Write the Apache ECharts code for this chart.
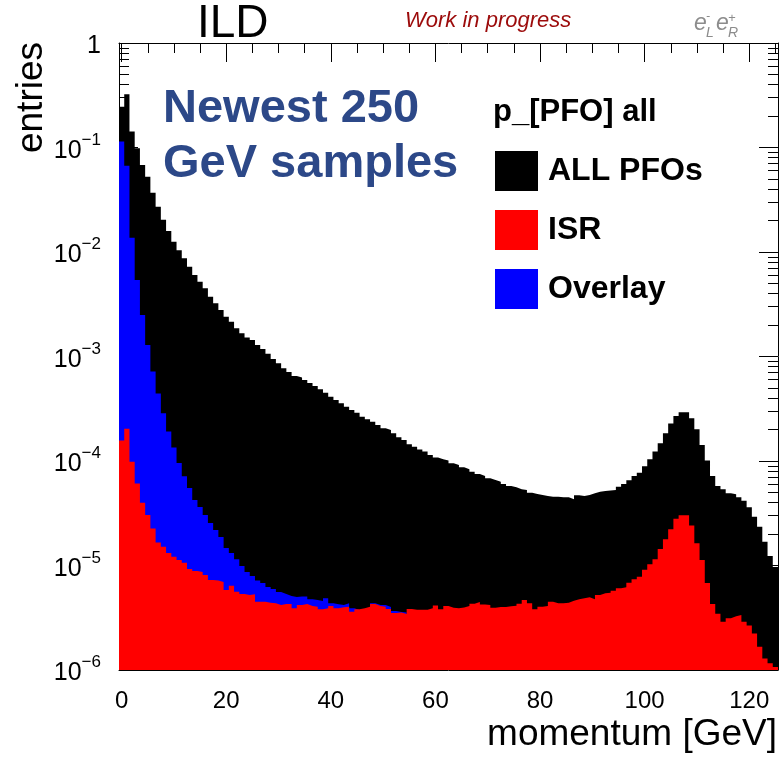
<!DOCTYPE html>
<html>
<head>
<meta charset="utf-8">
<title>p_[PFO] all</title>
<script src="https://cdn.jsdelivr.net/npm/echarts@6.0.0/dist/echarts.min.js"></script>
<style>
  html, body { margin: 0; padding: 0; background: #ffffff; }
  #chart { width: 784px; height: 760px; }
</style>
</head>
<body>
<div id="chart"></div>
<script>
const FONT = '"Liberation Sans", Arial, Helvetica, sans-serif';

// Momentum histograms: 1 GeV bins centred on integer GeV, starting at 0 GeV
const BIN_WIDTH = 1;
const FIRST_BIN_CENTER = 0;

// ALL PFOs, normalised entries per bin (bins 0..125 GeV)
const allPfos = [
  0.246, 0.323, 0.142, 0.0982, 0.0680, 0.0525, 0.0369, 0.0271, 0.0204, 0.0159,
  0.01255, 0.01038, 0.00870, 0.00723, 0.00603, 0.00520, 0.00449, 0.00373, 0.00323, 0.00279,
  0.00240, 0.00215, 0.00186, 0.00167, 0.00152, 0.00144, 0.00129, 0.00118, 0.00106, 0.000946,
  0.000861, 0.000771, 0.000711, 0.000651, 0.000630, 0.000596, 0.000558, 0.000522, 0.000485, 0.000450,
  0.000412, 0.000384, 0.000357, 0.000331, 0.000308, 0.000290, 0.000265, 0.000251, 0.000238, 0.000221,
  0.000206, 0.000198, 0.000184, 0.000169, 0.000159, 0.000145, 0.000137, 0.000129, 0.000123, 0.000114,
  0.000108, 0.000104, 0.000101, 9.51e-5, 9.16e-5, 8.70e-5, 8.33e-5, 7.90e-5, 7.51e-5, 7.19e-5,
  6.83e-5, 6.58e-5, 6.34e-5, 6.03e-5, 5.76e-5, 5.60e-5, 5.36e-5, 5.28e-5, 4.97e-5, 4.83e-5,
  4.73e-5, 4.62e-5, 4.55e-5, 4.55e-5, 4.49e-5, 4.49e-5, 4.30e-5, 4.70e-5, 4.62e-5, 4.73e-5,
  4.91e-5, 5.08e-5, 5.16e-5, 5.22e-5, 5.28e-5, 5.68e-5, 6.03e-5, 6.54e-5, 7.19e-5, 7.73e-5,
  8.90e-5, 1.04e-4, 1.23e-4, 1.48e-4, 1.84e-4, 2.29e-4, 2.70e-4, 2.92e-4, 2.92e-4, 2.56e-4,
  2.01e-4, 1.42e-4, 1.01e-4, 7.19e-5, 5.76e-5, 5.36e-5, 4.91e-5, 4.80e-5, 4.49e-5, 4.17e-5,
  3.60e-5, 2.93e-5, 2.35e-5, 1.69e-5, 1.23e-5, 9.7e-6
];

// ISR photons (bins 0..125 GeV)
const isr = [
  1.57e-4, 2.04e-4, 9.85e-5, 6.10e-5, 3.98e-5, 3.04e-5, 2.26e-5, 1.66e-5, 1.51e-5, 1.32e-5,
  1.21e-5, 1.13e-5, 1.06e-5, 9.26e-6, 8.86e-6, 8.67e-6, 8.11e-6, 7.27e-6, 7.19e-6, 6.95e-6,
  5.83e-6, 6.39e-6, 5.61e-6, 5.34e-6, 5.22e-6, 5.30e-6, 4.50e-6, 4.50e-6, 4.41e-6, 4.35e-6,
  4.19e-6, 4.28e-6, 4.28e-6, 3.89e-6, 4.19e-6, 4.28e-6, 4.10e-6, 4.03e-6, 3.81e-6, 3.89e-6,
  4.10e-6, 3.89e-6, 3.98e-6, 4.03e-6, 3.61e-6, 3.81e-6, 3.89e-6, 4.03e-6, 4.28e-6, 4.10e-6,
  4.03e-6, 3.83e-6, 3.51e-6, 3.55e-6, 3.43e-6, 3.83e-6, 3.78e-6, 3.78e-6, 3.78e-6, 3.89e-6,
  4.14e-6, 3.81e-6, 4.10e-6, 3.94e-6, 3.89e-6, 3.96e-6, 4.10e-6, 4.31e-6, 4.47e-6, 4.23e-6,
  4.19e-6, 3.94e-6, 4.01e-6, 4.01e-6, 4.07e-6, 4.12e-6, 4.31e-6, 4.68e-6, 4.35e-6, 3.81e-6,
  4.03e-6, 4.10e-6, 4.50e-6, 4.35e-6, 4.35e-6, 4.41e-6, 4.60e-6, 4.75e-6, 4.85e-6, 4.96e-6,
  4.75e-6, 5.22e-6, 5.42e-6, 5.49e-6, 5.74e-6, 6.05e-6, 6.19e-6, 6.84e-6, 7.38e-6, 7.81e-6,
  9.12e-6, 1.03e-5, 1.15e-5, 1.44e-5, 1.78e-5, 2.22e-5, 2.80e-5, 3.03e-5, 3.03e-5, 2.41e-5,
  1.63e-5, 1.13e-5, 6.80e-6, 4.28e-6, 3.46e-6, 2.90e-6, 3.13e-6, 3.27e-6, 3.36e-6, 2.90e-6,
  2.67e-6, 2.24e-6, 1.67e-6, 1.29e-6, 1.16e-6, 1.07e-6
];

// Overlay (bins 0..54 GeV; above that it lies under the ISR fill)
const overlay = [
  0.114, 0.0670, 0.01367, 0.00540, 0.00249, 0.00129, 0.000717, 0.000442, 0.000286, 0.000192,
  1.35e-4, 9.57e-5, 7.14e-5, 5.51e-5, 4.23e-5, 3.63e-5, 3.04e-5, 2.55e-5, 2.19e-5, 1.87e-5,
  1.47e-5, 1.32e-5, 1.15e-5, 9.89e-6, 8.67e-6, 7.93e-6, 7.19e-6, 6.80e-6, 6.23e-6, 5.96e-6,
  5.58e-6, 5.34e-6, 5.11e-6, 5.00e-6, 5.04e-6, 5.04e-6, 4.75e-6, 4.68e-6, 4.57e-6, 4.85e-6,
  4.35e-6, 4.25e-6, 4.19e-6, 4.35e-6, 3.89e-6, 3.75e-6, 3.83e-6, 3.92e-6, 4.35e-6, 4.19e-6,
  4.19e-6, 4.01e-6, 3.67e-6, 3.59e-6, 3.55e-6
];

// Axis ranges and tick labels
const X_MIN = -0.5, X_MAX = 125.5;
const Y_MIN = 1e-6, Y_MAX = 1;
const xTickValues = [0, 20, 40, 60, 80, 100, 120];
const xMinorStep = 5;
const yTickValues = [1e-6, 1e-5, 1e-4, 1e-3, 1e-2, 1e-1, 1];
const yMinorFactors = [2, 3, 4, 5, 6, 7, 8, 9];

// minor tick positions
const xMinorValues = [];
for (let v = xMinorStep; v < X_MAX; v += xMinorStep) {
  if (xTickValues.indexOf(v) < 0) xMinorValues.push(v);
}
const yMinorValues = [];
yTickValues.slice(0, -1).forEach(function (d) {
  yMinorFactors.forEach(function (f) { yMinorValues.push(d * f); });
});

// Turn bin contents into step-line vertices at the bin edges
function histEdges(values) {
  const pts = values.map(function (v, i) {
    return [FIRST_BIN_CENTER + i * BIN_WIDTH - BIN_WIDTH / 2, v];
  });
  pts.push([FIRST_BIN_CENTER + values.length * BIN_WIDTH - BIN_WIDTH / 2, values[values.length - 1]]);
  return pts;
}

function histSeries(name, values, color) {
  return {
    name: name,
    type: 'line',
    step: 'end',
    xAxisIndex: 0,
    yAxisIndex: 0,
    data: histEdges(values),
    symbol: 'none',
    color: color,
    itemStyle: { color: color },
    lineStyle: { width: 0, color: color },
    areaStyle: { color: color, opacity: 1, origin: 'start' },
    silent: true,
    z: 2
  };
}

const tickStyle = { color: '#000', width: 1 };

function xAxisDef(position, major) {
  return {
    type: 'value',
    position: position,
    min: X_MIN,
    max: X_MAX,
    axisLine: { show: major, onZero: false, lineStyle: { color: '#000', width: 1 } },
    axisTick: {
      show: true, inside: true, length: major ? 19 : 10,
      customValues: major ? xTickValues : xMinorValues,
      lineStyle: tickStyle
    },
    axisLabel: (major && position === 'bottom') ? {
      show: true, customValues: xTickValues, margin: 19,
      fontSize: 24, fontFamily: FONT, color: '#000'
    } : { show: false },
    splitLine: { show: false }
  };
}

function yLabel(v) {
  if (Math.abs(v - 1) < 1e-9) return '{b|1}';
  const e = Math.round(Math.log10(v));
  return '{b|10}{s|\u2212' + (-e) + '}';
}

function yAxisDef(position, major) {
  return {
    type: 'log',
    logBase: 10,
    position: position,
    min: Y_MIN,
    max: Y_MAX,
    axisLine: { show: major, onZero: false, lineStyle: { color: '#000', width: 1 } },
    axisTick: {
      show: true, inside: true, length: major ? 19 : 10,
      customValues: major ? yTickValues : yMinorValues,
      lineStyle: tickStyle
    },
    axisLabel: (major && position === 'left') ? {
      show: true, customValues: yTickValues, margin: 18,
      formatter: yLabel,
      rich: {
        b: { fontSize: 25, fontFamily: FONT, color: '#000', lineHeight: 32, verticalAlign: 'bottom' },
        s: { fontSize: 17, fontFamily: FONT, color: '#000', lineHeight: 17, verticalAlign: 'top' }
      }
    } : { show: false },
    splitLine: { show: false },
    minorTick: { show: false }
  };
}

const chart = echarts.init(document.getElementById('chart'), null, { renderer: 'canvas' });

chart.setOption({
  animation: false,
  backgroundColor: '#ffffff',
  grid: { left: 119, right: 6, top: 43, bottom: 90, containLabel: false },
  xAxis: [
    xAxisDef('bottom', true),
    xAxisDef('bottom', false),
    xAxisDef('top', true),
    xAxisDef('top', false)
  ],
  yAxis: [
    yAxisDef('left', true),
    yAxisDef('left', false),
    yAxisDef('right', true),
    yAxisDef('right', false)
  ],
  legend: {
    orient: 'vertical',
    left: 495,
    top: 151,
    padding: 0,
    itemWidth: 43,
    itemHeight: 40,
    itemGap: 19,
    icon: 'rect',
    selectedMode: false,
    data: ['ALL PFOs', 'ISR', 'Overlay'],
    textStyle: { fontSize: 32, fontWeight: 'bold', fontFamily: FONT, color: '#000', padding: [0, 0, 0, 5] }
  },
  series: [
    histSeries('ALL PFOs', allPfos, '#000000'),
    histSeries('Overlay', overlay, '#0000ff'),
    histSeries('ISR', isr, '#ff0000')
  ],
  graphic: [
    { type: 'text', x: 197, y: 24, silent: true,
      style: { text: 'ILD', font: '46px ' + FONT, fill: '#000', align: 'left', verticalAlign: 'middle' } },
    { type: 'text', x: 405, y: 21, silent: true,
      style: { text: 'Work in progress', font: 'italic 22px ' + FONT, fill: '#9c0b0b', align: 'left', verticalAlign: 'middle' } },
    // beam polarisation label e-_L e+_R
    { type: 'text', x: 694, y: 24, silent: true,
      style: { text: 'e', font: 'italic 23px ' + FONT, fill: '#8c8c8c', align: 'left', verticalAlign: 'middle' } },
    { type: 'text', x: 706, y: 17, silent: true,
      style: { text: '-', font: 'italic 12px ' + FONT, fill: '#8c8c8c', align: 'left', verticalAlign: 'middle' } },
    { type: 'text', x: 706, y: 33, silent: true,
      style: { text: 'L', font: 'italic 14px ' + FONT, fill: '#8c8c8c', align: 'left', verticalAlign: 'middle' } },
    { type: 'text', x: 716, y: 24, silent: true,
      style: { text: 'e', font: 'italic 23px ' + FONT, fill: '#8c8c8c', align: 'left', verticalAlign: 'middle' } },
    { type: 'text', x: 728, y: 18, silent: true,
      style: { text: '+', font: 'italic 13px ' + FONT, fill: '#8c8c8c', align: 'left', verticalAlign: 'middle' } },
    { type: 'text', x: 728, y: 33, silent: true,
      style: { text: 'R', font: 'italic 14px ' + FONT, fill: '#8c8c8c', align: 'left', verticalAlign: 'middle' } },
    { type: 'text', x: 163, y: 109, silent: true,
      style: { text: 'Newest 250', font: 'bold 47px ' + FONT, fill: '#2c4888', align: 'left', verticalAlign: 'middle' } },
    { type: 'text', x: 163, y: 164, silent: true,
      style: { text: 'GeV samples', font: 'bold 47px ' + FONT, fill: '#2c4888', align: 'left', verticalAlign: 'middle' } },
    { type: 'text', x: 493, y: 112, silent: true,
      style: { text: 'p_[PFO] all', font: 'bold 31px ' + FONT, fill: '#000', align: 'left', verticalAlign: 'middle' } },
    { type: 'text', x: 32, y: 42, rotation: Math.PI / 2, silent: true,
      style: { text: 'entries', font: '37px ' + FONT, fill: '#000', align: 'right', verticalAlign: 'middle' } },
    { type: 'text', x: 777, y: 735, silent: true,
      style: { text: 'momentum [GeV]', font: '37px ' + FONT, fill: '#000', align: 'right', verticalAlign: 'middle' } }
  ]
});
</script>
</body>
</html>
